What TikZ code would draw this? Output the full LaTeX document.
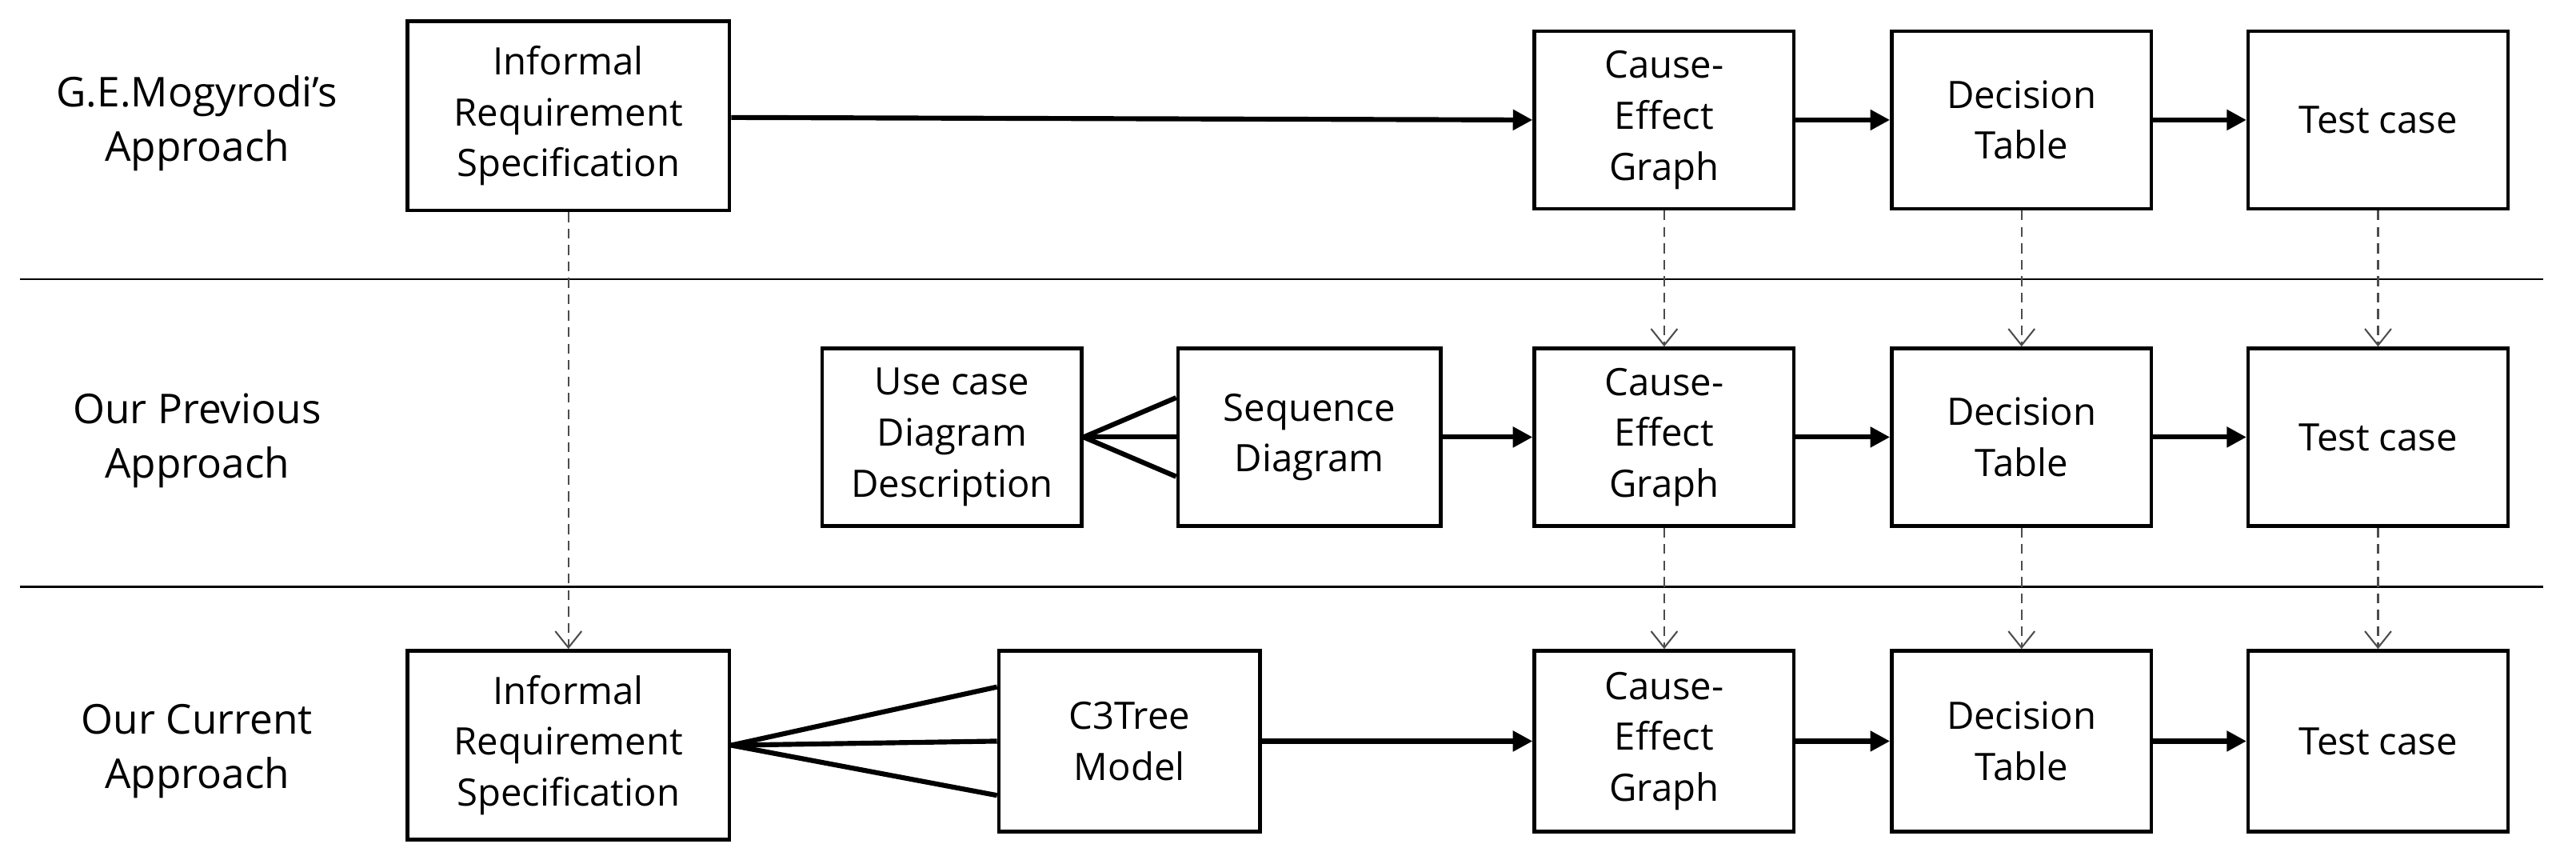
\documentclass[tikz,border=0pt]{standalone}
\usepackage{fontspec}
\setmainfont{Open Sans}
\usetikzlibrary{arrows.meta}
\begin{document}
\begin{tikzpicture}[x=0.5pt,y=-0.5pt,
  box/.style={draw,line width=1.1pt,align=center,inner sep=0pt,font=\fontsize{11.5}{15.5}\selectfont},
  lab/.style={align=center,font=\fontsize{12.5}{16.5}\selectfont},
  thick arr/.style={line width=1.5pt,-{Triangle[length=6pt,width=6pt]}},
  fan/.style={line width=1.5pt},
  dash arr/.style={densely dashed,line width=0.5pt,draw=black!70,-{Straight Barb[length=5pt,width=8pt]}}]
\useasboundingbox (0,0) rectangle (1568,528);
\draw[line width=0.6pt] (12,170) -- (1548,170);
\draw[line width=0.6pt] (12,357) -- (1548,357);
\node[lab] (l1) at (120,75) {G.E.Mogyrodi’s\\Approach};
\node[lab] (l2) at (120,268) {Our Previous\\Approach};
\node[lab] (l3) at (120,457) {Our Current\\Approach};
% row 1
\node[box,minimum width=98pt,minimum height=57.5pt] (ir1) at (346,70.5) {Informal\\Requirement\\Specification};
\node[box,minimum width=79pt,minimum height=54pt] (ce1) at (1013,73) {Cause-\\Effect\\Graph};
\node[box,minimum width=79pt,minimum height=54pt] (dt1) at (1230.5,73) {Decision\\Table};
\node[box,minimum width=79pt,minimum height=54pt] (tc1) at (1447.5,73) {Test case};
% row 2
\node[box,minimum width=79pt,minimum height=54pt] (uc2) at (579.5,266) {Use case\\Diagram\\Description};
\node[box,minimum width=80pt,minimum height=54pt] (sq2) at (797,266) {Sequence\\Diagram};
\node[box,minimum width=79pt,minimum height=54pt] (ce2) at (1013,266) {Cause-\\Effect\\Graph};
\node[box,minimum width=79pt,minimum height=54pt] (dt2) at (1230.5,266) {Decision\\Table};
\node[box,minimum width=79pt,minimum height=54pt] (tc2) at (1447.5,266) {Test case};
% row 3
\node[box,minimum width=98pt,minimum height=57.5pt] (ir3) at (346,453.5) {Informal\\Requirement\\Specification};
\node[box,minimum width=79.5pt,minimum height=55pt] (c3) at (687.5,451) {C3Tree\\Model};
\node[box,minimum width=79pt,minimum height=55pt] (ce3) at (1013,451) {Cause-\\Effect\\Graph};
\node[box,minimum width=79pt,minimum height=55pt] (dt3) at (1230.5,451) {Decision\\Table};
\node[box,minimum width=79pt,minimum height=55pt] (tc3) at (1447.5,451) {Test case};
% row 1 arrows
\draw[thick arr] (ir1.east) ++(0,1) -- (ce1.west);
\draw[thick arr] (ce1) -- (dt1);
\draw[thick arr] (dt1) -- (tc1);
% row 2
\draw[fan] (uc2.east) -- ([yshift=12pt]sq2.west);
\draw[fan] (uc2.east) -- (sq2.west);
\draw[fan] (uc2.east) -- ([yshift=-12pt]sq2.west);
\draw[thick arr] (sq2) -- (ce2);
\draw[thick arr] (ce2) -- (dt2);
\draw[thick arr] (dt2) -- (tc2);
% row 3
\draw[fan] (ir3.east) -- ([yshift=16.5pt]c3.west);
\draw[fan] (ir3.east) -- (c3.west);
\draw[fan] (ir3.east) -- ([yshift=-16.5pt]c3.west);
\draw[thick arr] (c3) -- (ce3);
\draw[thick arr] (ce3) -- (dt3);
\draw[thick arr] (dt3) -- (tc3);
% dashed
\draw[dash arr] (ir1) -- (ir3);
\draw[dash arr] (ce1) -- (ce2);
\draw[dash arr] (dt1) -- (dt2);
\draw[dash arr] (tc1) -- (tc2);
\draw[dash arr] (ce2) -- (ce3);
\draw[dash arr] (dt2) -- (dt3);
\draw[dash arr] (tc2) -- (tc3);
\end{tikzpicture}
\end{document}
